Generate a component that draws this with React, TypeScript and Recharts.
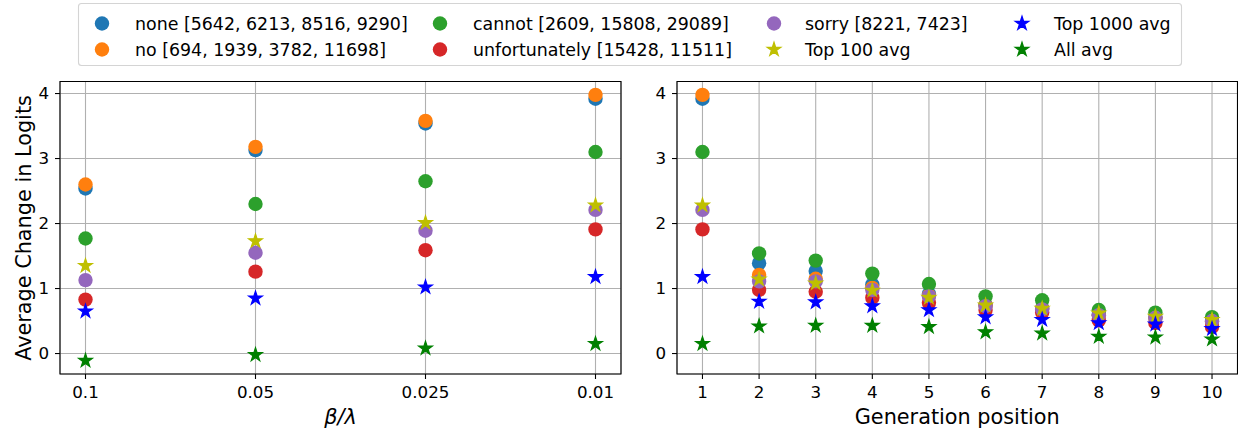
import React from 'react';
import { ScatterChart, Scatter, XAxis, YAxis, CartesianGrid, ReferenceArea, Label } from 'recharts';

// ---------- data ----------
const betaLabels = ['0.1', '0.05', '0.025', '0.01'];
const betaIndex = [0, 1, 2, 3];
const positions = [1, 2, 3, 4, 5, 6, 7, 8, 9, 10];
const yTicks = [0, 1, 2, 3, 4];

// values vs beta/lambda (0.1, 0.05, 0.025, 0.01)
const noneBeta = [2.54, 3.13, 3.54, 3.92];
const noBeta = [2.6, 3.18, 3.58, 3.98];
const cannotBeta = [1.77, 2.3, 2.65, 3.1];
const unfortunatelyBeta = [0.83, 1.26, 1.59, 1.91];
const sorryBeta = [1.13, 1.55, 1.89, 2.21];
const top100Beta = [1.35, 1.73, 2.01, 2.28];
const top1000Beta = [0.65, 0.85, 1.02, 1.18];
const allBeta = [-0.11, -0.02, 0.08, 0.15];

// values vs generation position (1..10)
const nonePos = [3.92, 1.39, 1.27, 1.06, 0.92, 0.75, 0.7, 0.6, 0.56, 0.5];
const noPos = [3.98, 1.21, 1.15, 1.01, 0.89, 0.74, 0.69, 0.59, 0.55, 0.49];
const cannotPos = [3.1, 1.54, 1.43, 1.23, 1.07, 0.88, 0.82, 0.67, 0.63, 0.56];
const unfortunatelyPos = [1.91, 0.98, 0.95, 0.86, 0.78, 0.67, 0.63, 0.51, 0.47, 0.41];
const sorryPos = [2.21, 1.11, 1.11, 0.98, 0.88, 0.73, 0.68, 0.59, 0.55, 0.5];
const top100Pos = [2.28, 1.14, 1.08, 0.97, 0.86, 0.74, 0.69, 0.62, 0.57, 0.52];
const top1000Pos = [1.18, 0.8, 0.79, 0.73, 0.67, 0.56, 0.52, 0.47, 0.45, 0.38];
const allPos = [0.15, 0.42, 0.43, 0.43, 0.41, 0.33, 0.31, 0.26, 0.25, 0.22];

const seriesNames = [
  'none [5642, 6213, 8516, 9290]',
  'no [694, 1939, 3782, 11698]',
  'cannot [2609, 15808, 29089]',
  'unfortunately [15428, 11511]',
  'sorry [8221, 7423]',
  'Top 100 avg',
  'Top 1000 avg',
  'All avg',
];
const seriesColors = ['#1f77b4', '#ff7f0e', '#2ca02c', '#d62728', '#9467bd', '#bfbf00', '#0000ff', '#008000'];
const seriesMarkers = ['circle', 'circle', 'circle', 'circle', 'circle', 'star', 'star', 'star'];
const betaValues = [noneBeta, noBeta, cannotBeta, unfortunatelyBeta, sorryBeta, top100Beta, top1000Beta, allBeta];
const posValues = [nonePos, noPos, cannotPos, unfortunatelyPos, sorryPos, top100Pos, top1000Pos, allPos];

// ---------- styling ----------
const FONT = "'DejaVu Sans', sans-serif";
const Y_DOMAIN: [number, number] = [-0.315, 4.185];
const CIRCLE_R = 7.2;
const STAR_R = 7.2;

function starPoints(cx: number, cy: number, R: number) {
  const pts: string[] = [];
  const r = R * 0.381966;
  for (let i = 0; i < 10; i++) {
    const a = -Math.PI / 2 + (i * Math.PI) / 5;
    const rad = i % 2 === 0 ? R : r;
    pts.push(`${cx + rad * Math.cos(a)},${cy + rad * Math.sin(a)}`);
  }
  return pts.join(' ');
}

function Marker({ cx, cy, color, kind }: { cx: number; cy: number; color: string; kind: string }) {
  if (cx == null || cy == null) return null;
  if (kind === 'star') {
    return <polygon points={starPoints(cx, cy, STAR_R)} fill={color} stroke={color} strokeWidth={1.2} strokeLinejoin="miter" />;
  }
  return <circle cx={cx} cy={cy} r={CIRCLE_R} fill={color} />;
}

const toPoints = (xs: number[], ys: number[]) => xs.map((x, i) => ({ x, y: ys[i] }));

const tickStyle = { fill: '#000', fontSize: 16.7, fontFamily: FONT };
const tickLineStyle = { stroke: '#000', strokeWidth: 1.1 };

type PanelProps = {
  left: number;
  width: number;
  yAxisWidth: number;
  marginRight: number;
  xDomain: [number, number];
  xTicks: number[];
  xFmt: (v: number) => string;
  xs: number[];
  values: number[][];
  xLabel: React.ReactNode;
  yLabel?: boolean;
};

function Panel({ left, width, yAxisWidth, marginRight, xDomain, xTicks, xFmt, xs, values, xLabel, yLabel }: PanelProps) {
  const plotCenterX = yAxisWidth + (width - yAxisWidth - marginRight) / 2;
  return (
    <div style={{ position: 'absolute', left, top: 0 }}>
      <ScatterChart width={width} height={432} margin={{ top: 81.5, right: marginRight, bottom: 0, left: 0 }}>
        <CartesianGrid stroke="#b0b0b0" strokeWidth={1.1} />
        <XAxis
          type="number"
          dataKey="x"
          domain={xDomain}
          ticks={xTicks}
          interval={0}
          allowDataOverflow
          tickFormatter={xFmt}
          height={58}
          axisLine={false}
          tickLine={tickLineStyle}
          tickSize={5}
          tickMargin={7}
          tick={tickStyle}
          label={
            <Label
              content={() => (
                <text x={plotCenterX} y={424} textAnchor="middle" fontSize={20.8} fontFamily={FONT} fill="#000">
                  {xLabel}
                </text>
              )}
            />
          }
        />
        <YAxis
          type="number"
          dataKey="y"
          domain={Y_DOMAIN}
          ticks={yTicks}
          interval={0}
          allowDataOverflow
          width={yAxisWidth}
          axisLine={false}
          tickLine={tickLineStyle}
          tickSize={5}
          tickMargin={6}
          tick={tickStyle}
          label={
            yLabel ? (
              <Label
                content={() => (
                  <text
                    x={31}
                    y={228}
                    transform="rotate(-90 31 228)"
                    textAnchor="middle"
                    fontSize={20.8}
                    fontFamily={FONT}
                    fill="#000"
                  >
                    Average Change in Logits
                  </text>
                )}
              />
            ) : undefined
          }
        />
        {values.map((ys, i) => (
          <Scatter
            key={seriesNames[i]}
            name={seriesNames[i]}
            data={toPoints(xs, ys)}
            isAnimationActive={false}
            shape={(p: any) => <Marker cx={p.cx} cy={p.cy} color={seriesColors[i]} kind={seriesMarkers[i]} />}
          />
        ))}
        <ReferenceArea
          x1={xDomain[0]}
          x2={xDomain[1]}
          y1={Y_DOMAIN[0]}
          y2={Y_DOMAIN[1]}
          fill="none"
          fillOpacity={0}
          stroke="#000"
          strokeWidth={1.1}
          ifOverflow="visible"
        />
      </ScatterChart>
    </div>
  );
}

// legend layout (columns, 2 rows)
const legendColMarkerX = [102, 440, 774, 1022];
const legendColTextX = [135, 473, 805, 1054];
const legendRowY = [23.5, 49.5];

function LegendBox() {
  return (
    <svg width={1238} height={70} style={{ position: 'absolute', left: 0, top: 0 }}>
      <rect x={78.5} y={3.5} width={1103} height={62} rx={3} fill="#fff" stroke="#d4d4d4" strokeWidth={1.1} />
      {seriesNames.map((name, i) => {
        const col = Math.floor(i / 2);
        const row = i % 2;
        const cy = legendRowY[row];
        return (
          <g key={name}>
            <Marker cx={legendColMarkerX[col]} cy={cy} color={seriesColors[i]} kind={seriesMarkers[i]} />
            <text x={legendColTextX[col]} y={cy + 6} fontSize={17.4} fontFamily={FONT} fill="#000">
              {name}
            </text>
          </g>
        );
      })}
    </svg>
  );
}

export default function App() {
  return (
    <div style={{ position: 'absolute', left: 0, top: 0, width: 1238, height: 432, background: '#fff', overflow: 'hidden' }}>
      <Panel
        left={0}
        width={640}
        yAxisWidth={60}
        marginRight={19}
        xDomain={[-0.15, 3.15]}
        xTicks={betaIndex}
        xFmt={(v: number) => betaLabels[v] ?? ''}
        xs={betaIndex}
        values={betaValues}
        yLabel
        xLabel={
          <>
            <tspan fontStyle="italic">β</tspan>
            <tspan fontStyle="italic">/</tspan>
            <tspan fontStyle="italic">λ</tspan>
          </>
        }
      />
      <Panel
        left={620}
        width={618}
        yAxisWidth={57}
        marginRight={0.5}
        xDomain={[0.55, 10.45]}
        xTicks={positions}
        xFmt={(v: number) => String(v)}
        xs={positions}
        values={posValues}
        xLabel="Generation position"
      />
      <LegendBox />
    </div>
  );
}
